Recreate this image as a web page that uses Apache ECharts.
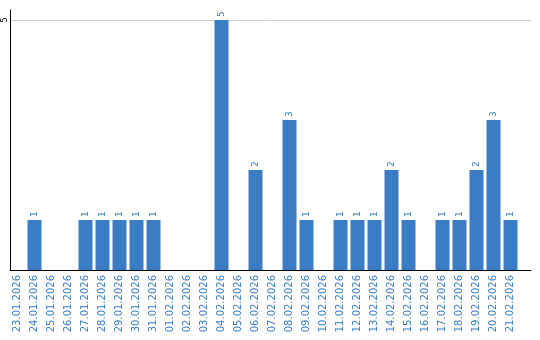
<!DOCTYPE html>
<html><head><meta charset="utf-8">
<script src="https://cdn.jsdelivr.net/npm/echarts@6/dist/echarts.min.js"></script>
<style>html,body{margin:0;padding:0;background:#fff}#c{width:540px;height:340px}</style>
</head><body><div id="c"></div>
<script>
const categories = ['23.01.2026','24.01.2026','25.01.2026','26.01.2026','27.01.2026','28.01.2026','29.01.2026','30.01.2026','31.01.2026','01.02.2026','02.02.2026','03.02.2026','04.02.2026','05.02.2026','06.02.2026','07.02.2026','08.02.2026','09.02.2026','10.02.2026','11.02.2026','12.02.2026','13.02.2026','14.02.2026','15.02.2026','16.02.2026','17.02.2026','18.02.2026','19.02.2026','20.02.2026','21.02.2026'];
const values = [0,1,0,0,1,1,1,1,1,0,0,0,5,0,2,0,3,1,0,1,1,1,2,1,0,1,1,2,3,1];
const yTickLabels = [5];

const blue = '#3a7dc4';
const chart = echarts.init(document.getElementById('c'), null, {renderer:'canvas'});
chart.setOption({
  animation: false,
  grid: [
    {left: 10, right: 9, top: 10, bottom: 70},
    {left: 9, width: 510, top: 10, bottom: 70}
  ],
  xAxis: [
    {gridIndex: 0, type: 'value', min: 0, max: 1,
     axisLine: {show: true, lineStyle: {color: '#000', width: 1}},
     axisTick: {show: false}, axisLabel: {show: false}, splitLine: {show: false}},
    {gridIndex: 1, type: 'category', data: categories,
     axisLine: {show: false}, axisTick: {show: false},
     axisLabel: {rotate: 90, interval: 0, color: blue, fontFamily: 'DejaVu Sans', fontSize: 10, margin: 5}}
  ],
  yAxis: [
    {gridIndex: 0, type: 'value', min: 0, max: 5.2, interval: 5,
     axisLine: {show: true, lineStyle: {color: '#000', width: 1}},
     axisTick: {show: false},
     axisLabel: {rotate: 90, margin: 1, color: '#000', fontFamily: 'DejaVu Sans', fontSize: 8,
       formatter: v => yTickLabels.includes(v) ? String(v) : ''},
     splitLine: {show: true, lineStyle: {color: ['rgba(0,0,0,0)', '#cccccc', 'rgba(0,0,0,0)'], width: 1}}},
    {gridIndex: 1, type: 'value', min: 0, max: 5.2, show: false}
  ],
  series: [{
    type: 'bar', xAxisIndex: 1, yAxisIndex: 1,
    data: values, barWidth: 14,
    itemStyle: {color: blue},
    label: {show: true, position: 'top', rotate: 90, align: 'left', verticalAlign: 'middle', distance: 3,
      color: blue, fontFamily: 'DejaVu Sans', fontSize: 9,
      formatter: p => p.value ? String(p.value) : ''}
  }]
});
</script></body></html>
